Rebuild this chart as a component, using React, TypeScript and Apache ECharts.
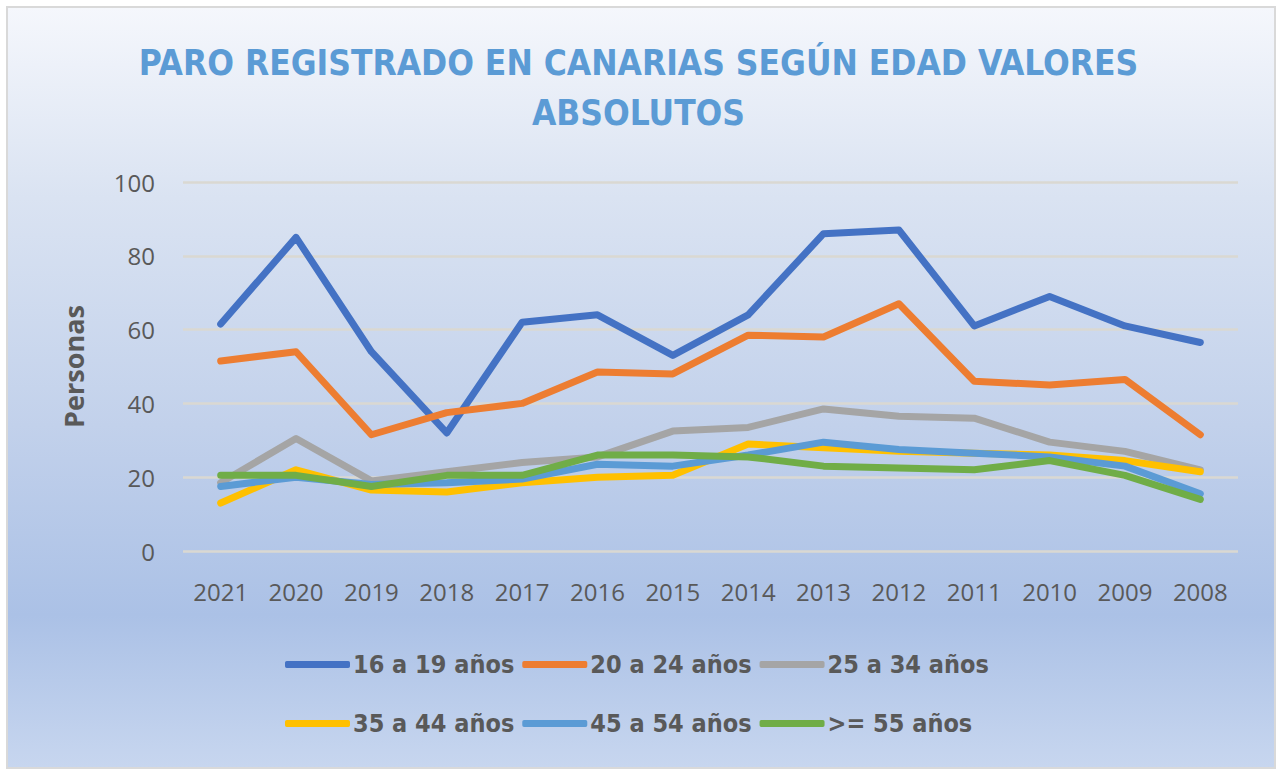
import React, { useEffect, useRef } from "react";
import * as echarts from "echarts";

const years = ["2021", "2020", "2019", "2018", "2017", "2016", "2015", "2014", "2013", "2012", "2011", "2010", "2009", "2008"];
const s16a19 = [61.5, 85, 54, 32, 62, 64, 53, 64, 86, 87, 61, 69, 61, 56.5];
const s20a24 = [51.5, 54, 31.5, 37.5, 40, 48.5, 48, 58.5, 58, 67, 46, 45, 46.5, 31.5];
const s25a34 = [18.5, 30.5, 19, 21.5, 24, 25.5, 32.5, 33.5, 38.5, 36.5, 36, 29.5, 27, 22];
const s35a44 = [13, 22, 16.5, 16, 18.5, 20, 20.5, 29, 28, 27, 26.5, 26, 24.5, 21.5];
const s45a54 = [17.5, 20, 18, 18.5, 19.5, 23.5, 23, 26, 29.5, 27.5, 26.5, 25.5, 23, 15.5];
const s55 = [20.5, 20.5, 17.5, 20.5, 20.5, 26, 26, 25.5, 23, 22.5, 22, 24.5, 20.5, 14];
const seriesNames = ["16 a 19 años", "20 a 24 años", "25 a 34 años", "35 a 44 años", "45 a 54 años", ">= 55 años"];
const seriesData = [s16a19, s20a24, s25a34, s35a44, s45a54, s55];
const colors = ["#4472c4", "#ed7d31", "#a5a5a5", "#ffc000", "#5b9bd5", "#70ad47"];
const yTicks = { min: 0, max: 100, interval: 20 };

const narrow = '"Liberation Sans Narrow", "DejaVu Sans Condensed", "Open Sans", sans-serif';

export default function App() {
  const ref = useRef<HTMLDivElement>(null);
  useEffect(() => {
    if (!ref.current) return;
    const chart = echarts.init(ref.current, null, { renderer: "svg" });
    const legendCommon = {
      left: 280,
      icon: "roundRect",
      itemWidth: 65,
      itemHeight: 7,
      itemGap: 8,
      textStyle: { color: "#595959", fontSize: 25, fontWeight: "bold", fontFamily: narrow, padding: [0, 0, 0, -2] },
    };
    chart.setOption({
      animation: false,
      backgroundColor: "transparent",
      color: colors,
      title: {
        text: "PARO REGISTRADO EN CANARIAS SEGÚN EDAD VALORES\nABSOLUTOS",
        left: "center",
        top: 33,
        textStyle: { color: "#5b9bd5", fontSize: 35, fontWeight: "bold", fontFamily: narrow, lineHeight: 50 },
      },
      legend: [
        { ...legendCommon, top: 647, data: seriesNames.slice(0, 3) },
        { ...legendCommon, top: 706, data: seriesNames.slice(3) },
      ],
      grid: { left: 183, right: 39, top: 182, bottom: 219 },
      xAxis: {
        type: "category",
        data: years,
        boundaryGap: true,
        axisLine: { show: false },
        axisTick: { show: false },
        axisLabel: { color: "#595959", fontSize: 24, fontFamily: '"Open Sans", sans-serif', margin: 28 },
      },
      yAxis: {
        type: "value",
        min: yTicks.min,
        max: yTicks.max,
        interval: yTicks.interval,
        name: "Personas",
        nameLocation: "middle",
        nameGap: 96,
        nameRotate: 90,
        nameTextStyle: { color: "#595959", fontSize: 27, fontWeight: "bold", fontFamily: '"Open Sans", sans-serif' },
        axisLine: { show: false },
        axisTick: { show: false },
        axisLabel: { color: "#595959", fontSize: 24, fontFamily: '"Open Sans", sans-serif', margin: 28 },
        splitLine: { lineStyle: { color: "#dad8d2", width: 2.5 } },
      },
      series: seriesNames.map((name, i) => ({
        name,
        type: "line",
        data: seriesData[i],
        showSymbol: false,
        symbol: "none",
        lineStyle: { width: 7, color: colors[i], cap: "round", join: "round" },
        itemStyle: { color: colors[i] },
      })),
    });
    return () => chart.dispose();
  }, []);
  return (
    <div style={{ position: "absolute", left: 0, top: 0, width: 1277, height: 770, background: "#ffffff" }}>
      <div
        style={{
          position: "absolute",
          left: 6,
          top: 6,
          width: 1266,
          height: 759,
          border: "2px solid #d9d9d9",
          background: "linear-gradient(to bottom, #f5f7fc 0%, #dae3f2 25%, #c2d1eb 55%, #abc1e6 80%, #c7d6ef 100%)",
        }}
      />
      <div ref={ref} style={{ position: "absolute", left: 0, top: 0, width: 1277, height: 770 }} />
    </div>
  );
}
